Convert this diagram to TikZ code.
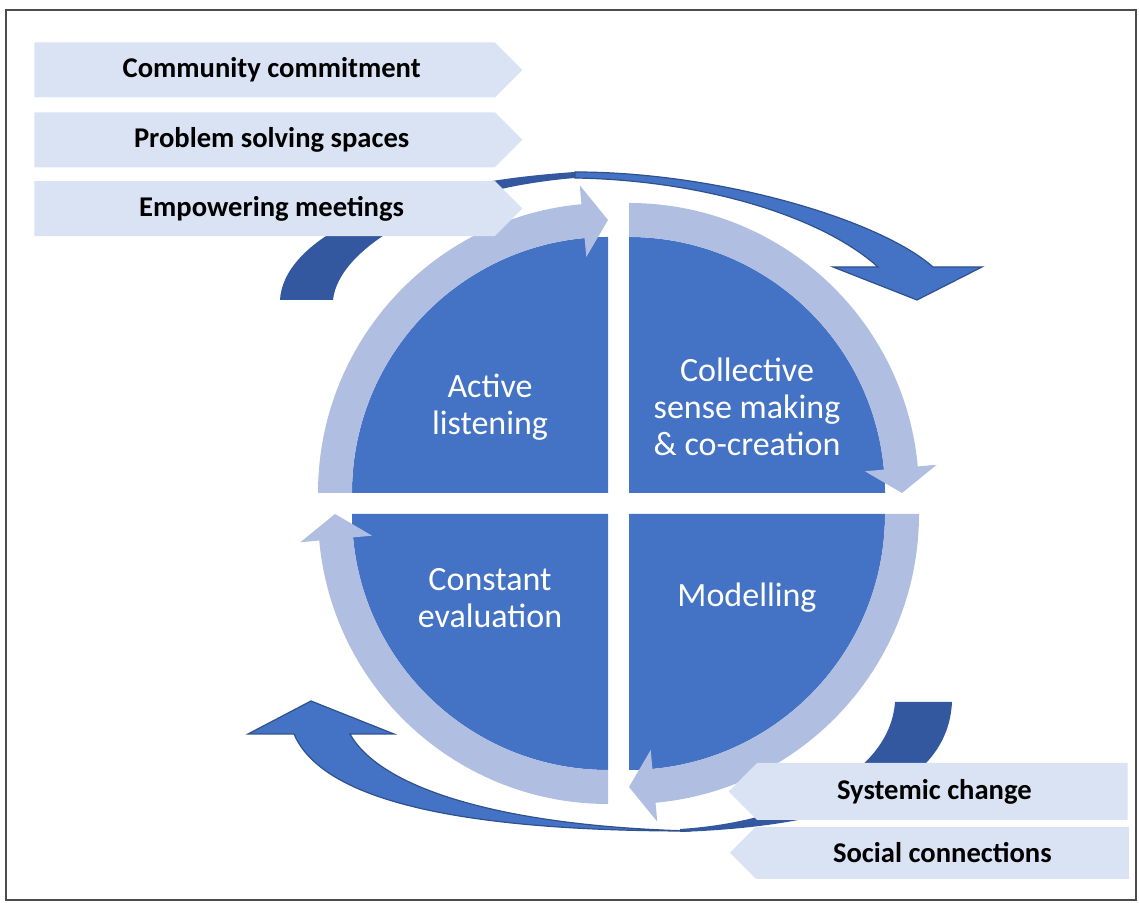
\documentclass[tikz,border=0pt]{standalone}
\usepackage{fontspec}
\setmainfont{Carlito}
\usetikzlibrary{positioning,shapes.symbols}

\definecolor{quadblue}{RGB}{68,114,196}
\definecolor{bandblue}{RGB}{176,190,225}
\definecolor{tabblue}{RGB}{218,227,243}
\definecolor{backblue}{RGB}{52,88,160}
\definecolor{edgeblue}{RGB}{47,82,143}

\begin{document}
\begin{tikzpicture}[x=0.5pt, y=0.5pt,
  quad/.style = {fill=quadblue},
  band/.style = {fill=bandblue},
  lbl/.style = {text=white, align=center, font=\fontsize{17}{18.5}\selectfont},
  tab/.style = {signal, fill=tabblue, minimum width=244pt, minimum height=27.5pt, inner sep=0pt, signal pointer angle=90, font=\fontsize{14.3}{17}\selectfont\bfseries},
  curl/.style = {fill=quadblue, draw=edgeblue, line width=0.6pt},
  back/.style = {fill=backblue}]
  \useasboundingbox (0,0) rectangle (1139,903);
  \draw[black!70, line width=1pt] (6,3) rectangle (1136,893);

  % top curved arrow
  \fill[back] (280,603) .. controls (283,660) and (380,718) .. (575,731) -- (575,725) .. controls (430,713) and (338,653) .. (333,603) -- cycle;
  \filldraw[curl] (575,731) .. controls (720,731) and (880,683) .. (933,636) -- (982,636) -- (917,603) -- (833,636) -- (878,636) .. controls (820,688) and (700,723) .. (575,725) -- cycle;

  % bottom curved arrow
  \fill[back] (895,201) -- (952,201) .. controls (948,118) and (850,77) .. (680,71) -- (680,74) .. controls (790,81) and (890,128) .. (895,201) -- cycle;
  \filldraw[curl] (294,169) -- (248,169) -- (311,202) -- (394,169) -- (350,169) .. controls (380,115) and (500,77) .. (690,72) .. controls (440,72) and (320,108) .. (294,169) -- cycle;

  % quadrants and their arrows
  \foreach \cx/\cy/\a in {608/410/180, 629/410/90, 629/389/0, 608/389/-90} {
    \begin{scope}[shift={(\cx,\cy)}]
      \fill[quad] (0,0) -- (\a:256) arc[start angle=\a, delta angle=-90, radius=256] -- cycle;
      \fill[band] (\a:256) arc[start angle=\a, end angle=\a-84.75, radius=256] -- (\a-84.75:237) -- (\a-90:273) -- (\a-84.75:309) -- (\a-84.75:290) arc[start angle=\a-84.75, end angle=\a, radius=290] -- cycle;
    \end{scope}
  }

  \node[lbl] (act) at (490,496) {Active\\listening};
  \node[lbl] (coll) at (747,496) {Collective\\sense making\\\& co-creation};
  \node[lbl] (eval) at (490,305) {Constant\\evaluation};
  \node[lbl] (model) at (747,305) {Modelling};

  \node[tab, signal to=east, anchor=west] (comm) at (34,833) {\hspace*{7pt}Community commitment};
  \node[tab, signal to=east, below=7pt of comm] (prob) {\hspace*{7pt}Problem solving spaces};
  \node[tab, signal to=east, below=6.5pt of prob] (emp) {\hspace*{7pt}Empowering meetings};
  \node[tab, signal to=west, minimum width=199.5pt, minimum height=28.5pt, anchor=east] (sys) at (1128,111.5) {Systemic change\hspace*{8pt}};
  \node[tab, signal to=west, minimum width=199.5pt, minimum height=26pt, below=3pt of sys] (soc) {Social connections};
\end{tikzpicture}
\end{document}
